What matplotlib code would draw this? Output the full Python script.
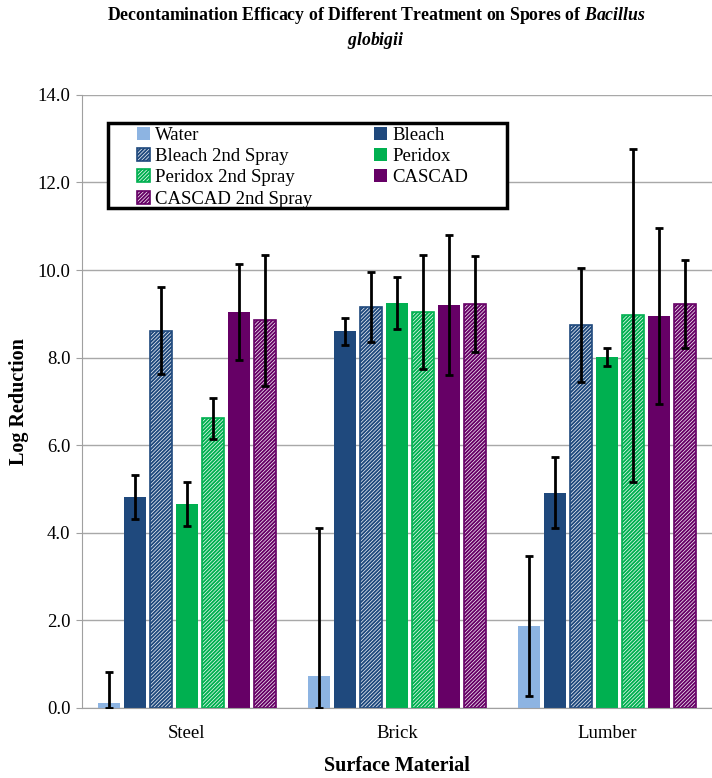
import matplotlib
matplotlib.use("Agg")
import matplotlib.pyplot as plt
from matplotlib.patches import Rectangle
import numpy as np

plt.rcParams['font.family'] = ['Liberation Serif', 'DejaVu Serif']
plt.rcParams['mathtext.fontset'] = 'custom'
plt.rcParams['mathtext.rm'] = 'Liberation Serif:bold'
plt.rcParams['mathtext.it'] = 'Liberation Serif:italic:bold'
plt.rcParams['hatch.linewidth'] = 1.4

materials = ['Steel', 'Brick', 'Lumber']
series = ['Water', 'Bleach', 'Bleach 2nd Spray', 'Peridox',
          'Peridox 2nd Spray', 'CASCAD', 'CASCAD 2nd Spray']

water = [0.12, 0.72, 1.87]
bleach = [4.82, 8.60, 4.92]
bleach2 = [8.62, 9.15, 8.75]
peridox = [4.65, 9.25, 8.02]
peridox2 = [6.62, 9.05, 8.97]
cascad = [9.05, 9.20, 8.95]
cascad2 = [8.85, 9.22, 9.22]

# error bars (lower, upper)
water_err = [[0.12, 0.72, 1.60], [0.70, 3.40, 1.60]]
bleach_err = [0.50, 0.30, 0.80]
bleach2_err = [1.00, 0.80, 1.30]
peridox_err = [0.50, 0.60, 0.20]
peridox2_err = [0.47, 1.30, 3.80]
cascad_err = [1.10, 1.60, 2.00]
cascad2_err = [1.50, 1.10, 1.00]

values = [water, bleach, bleach2, peridox, peridox2, cascad, cascad2]
errors = [water_err, bleach_err, bleach2_err, peridox_err, peridox2_err, cascad_err, cascad2_err]
colors = ['#8db4e2', '#1f497d', '#1f497d', '#00b050', '#00b050', '#660066', '#660066']
hatched = [False, False, True, False, True, False, True]

fig = plt.figure(figsize=(7.12, 7.78), dpi=100)
ax = fig.add_axes([0.115, 0.090, 0.885, 0.788])

x = np.arange(len(materials))
step = 0.124
width = 0.105
handles = []
for i, (name, vals, err, c, h) in enumerate(zip(series, values, errors, colors, hatched)):
    pos = x + (i - 3) * step
    if h:
        b = ax.bar(pos, vals, width, facecolor='white', edgecolor=c, hatch='/' * 9,
                   linewidth=1.2, label=name, zorder=2)
    else:
        b = ax.bar(pos, vals, width, color=c, label=name, zorder=2)
    ax.errorbar(pos, vals, yerr=err, fmt='none', ecolor='black', elinewidth=2,
                capsize=3.2, capthick=2, zorder=3)
    handles.append(b)

ax.set_xlim(-0.5, 2.5)
ax.set_ylim(0, 14)
ax.set_yticks(np.arange(0, 14.1, 2))
ax.set_yticklabels(['%.1f' % v for v in np.arange(0, 14.1, 2)])
ax.set_xticks(x)
ax.set_xticklabels(materials)
ax.tick_params(axis='y', labelsize=13.5, length=4.3, color='#a0a0a0', pad=4)
ax.tick_params(axis='x', labelsize=13.5, length=0, pad=12)
ax.yaxis.grid(True, color='#a8a8a8', linewidth=1)
ax.set_axisbelow(True)
for s in ['top', 'right']:
    ax.spines[s].set_visible(False)
ax.spines['left'].set_color('#a0a0a0')
ax.spines['bottom'].set_color('#a0a0a0')

ax.set_ylabel('Log Reduction', fontsize=14.5, fontweight='bold', labelpad=6)
ax.set_xlabel('Surface Material', fontsize=14.5, fontweight='bold', labelpad=10)

# legend box (drawn separately so the entries can sit inset like the original)
ax.add_patch(Rectangle((0.041, 0.816), 0.633, 0.138, transform=ax.transAxes,
                       facecolor='white', edgecolor='black', linewidth=2.5, zorder=4.5,
                       clip_on=False))
order = [0, 2, 4, 6, 1, 3, 5]
leg = ax.legend([handles[k] for k in order], [series[k] for k in order], ncol=2,
                loc='upper left', bbox_to_anchor=(0.088, 0.948),
                fontsize=13.5, frameon=False,
                handlelength=0.7, handleheight=0.7, handletextpad=0.25,
                labelspacing=0.22, columnspacing=3.3, borderpad=0, borderaxespad=0)
leg.set_zorder(5)

fig.text(0.528, 0.980, r'Decontamination Efficacy of Different Treatment on Spores of $\it{Bacillus}$',
         ha='center', va='center', fontsize=12.8, fontweight='bold')
fig.text(0.528, 0.948, r'$\it{globigii}$', ha='center', va='center', fontsize=12.8)

fig.savefig('out.png', dpi=100)
